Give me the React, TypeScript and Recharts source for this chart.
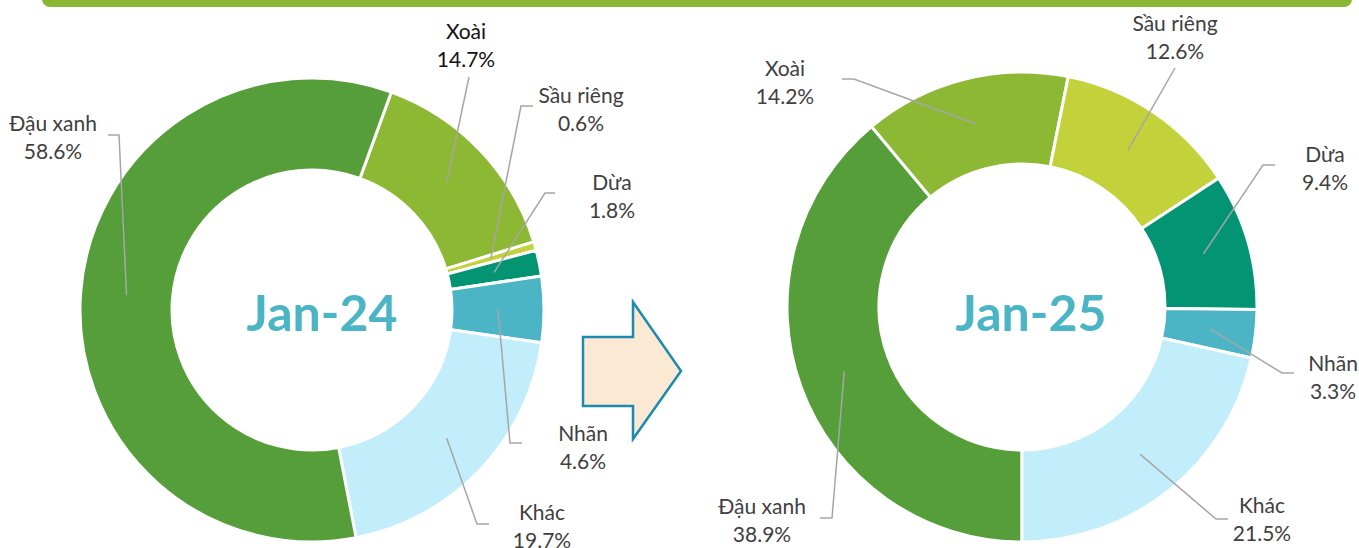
import React from "react";
import { PieChart, Pie, Cell } from "recharts";

// ---- Data ----
const leftNames = ["Xoài", "Sầu riêng", "Dừa", "Nhãn", "Khác", "Đậu xanh"];
const leftValues = [14.7, 0.6, 1.8, 4.6, 19.7, 58.6];
const rightNames = ["Đậu xanh", "Xoài", "Sầu riêng", "Dừa", "Nhãn", "Khác"];
const rightValues = [38.9, 14.2, 12.6, 9.4, 3.3, 21.5];
const leftTitle = "Jan-24";
const rightTitle = "Jan-25";

// ---- Styles ----
const colorByName: Record<string, string> = {
  "Đậu xanh": "#559E3A",
  "Xoài": "#8DB834",
  "Sầu riêng": "#C3D13B",
  "Dừa": "#039473",
  "Nhãn": "#4CB5C5",
  "Khác": "#C2EDFA",
};

// label layout: text centre x, line centre y (two lines), leader bend points
type LabelCfg = { tx: number; ty: number; pts: [number, number][]; color?: string };
const leftLabels: LabelCfg[] = [
  { tx: 466, ty: 30, pts: [[469, 77]], color: "#111111" },
  { tx: 581, ty: 94, pts: [[521, 106], [533, 106]] },
  { tx: 612, ty: 181, pts: [[545, 193], [555, 193]] },
  { tx: 583, ty: 432, pts: [[510, 443], [522, 443]] },
  { tx: 542, ty: 511, pts: [[477, 524], [489, 524]] },
  { tx: 53, ty: 122, pts: [[119, 135], [108, 135]] },
];
const rightLabels: LabelCfg[] = [
  { tx: 762, ty: 505, pts: [[832, 518], [820, 518]] },
  { tx: 785, ty: 67, pts: [[854, 79], [842, 79]] },
  { tx: 1175, ty: 22, pts: [[1175, 68]] },
  { tx: 1325, ty: 153, pts: [[1263, 165], [1275, 165]] },
  { tx: 1333, ty: 362, pts: [[1282, 373], [1294, 373]] },
  { tx: 1262, ty: 504, pts: [[1216, 519], [1228, 519]] },
];

const FONT = "Lato, 'Open Sans', sans-serif";
const RAD = Math.PI / 180;

const makeLabel = (cfgs: LabelCfg[]) => (props: any) => {
  const { cx, cy, midAngle, innerRadius, outerRadius, index, name, value } = props;
  const cfg = cfgs[index];
  if (!cfg) return null;
  const r = (innerRadius + outerRadius) / 2;
  const sx = cx + r * Math.cos(-midAngle * RAD);
  const sy = cy + r * Math.sin(-midAngle * RAD);
  const pts = [[sx, sy], ...cfg.pts].map((p) => p.join(",")).join(" ");
  const fill = cfg.color || "#404040";
  return (
    <g key={`lbl-${name}`}>
      <polyline points={pts} fill="none" stroke="#A6A6A6" strokeWidth={1.5} />
      <text x={cfg.tx} y={cfg.ty} textAnchor="middle" dominantBaseline="central" fontFamily={FONT} fontSize={21} fill={fill}>
        {name}
      </text>
      <text x={cfg.tx} y={cfg.ty + 28} textAnchor="middle" dominantBaseline="central" fontFamily={FONT} fontSize={21} fill={fill}>
        {value.toFixed(1)}%
      </text>
    </g>
  );
};

const leftData = leftNames.map((n, i) => ({ name: n, value: leftValues[i] }));
const rightData = rightNames.map((n, i) => ({ name: n, value: rightValues[i] }));

export default function App() {
  const W = 1359;
  const H = 548;
  return (
    <div style={{ position: "absolute", left: 0, top: 0, width: W, height: H, background: "#fff", overflow: "hidden" }}>
      <svg width={W} height={H} style={{ position: "absolute", left: 0, top: 0 }}>
        <rect x={42} y={-12} width={1310} height={19} rx={8} ry={8} fill="#8BB832" />
        <polygon
          points="583,337 633,337 633,302 681,371 633,439 633,406 583,406"
          fill="#FBE9D3"
          stroke="#1E8AB0"
          strokeWidth={2.5}
          strokeLinejoin="miter"
        />
      </svg>
      <div style={{ position: "absolute", left: 0, top: 0 }}>
        <PieChart width={W} height={H} margin={{ top: 0, right: 0, bottom: 0, left: 0 }}>
          <Pie
            data={leftData}
            dataKey="value"
            nameKey="name"
            cx={312}
            cy={310}
            innerRadius={140}
            outerRadius={232}
            startAngle={70}
            endAngle={-290}
            stroke="#ffffff"
            strokeWidth={3}
            isAnimationActive={false}
            labelLine={false}
            label={makeLabel(leftLabels)}
          >
            {leftData.map((d) => (
              <Cell key={d.name} fill={colorByName[d.name]} />
            ))}
          </Pie>
          <Pie
            data={rightData}
            dataKey="value"
            nameKey="name"
            cx={1022}
            cy={307}
            innerRadius={143}
            outerRadius={235}
            startAngle={-90}
            endAngle={-450}
            stroke="#ffffff"
            strokeWidth={3}
            isAnimationActive={false}
            labelLine={false}
            label={makeLabel(rightLabels)}
          >
            {rightData.map((d) => (
              <Cell key={d.name} fill={colorByName[d.name]} />
            ))}
          </Pie>
        </PieChart>
      </div>
      <svg width={W} height={H} style={{ position: "absolute", left: 0, top: 0, pointerEvents: "none" }}>
        <text x={322} y={312} textAnchor="middle" dominantBaseline="central" fontFamily={FONT} fontWeight={700} fontSize={50} fill="#4BB5C6">
          {leftTitle}
        </text>
        <text x={1031} y={312} textAnchor="middle" dominantBaseline="central" fontFamily={FONT} fontWeight={700} fontSize={50} fill="#4BB5C6">
          {rightTitle}
        </text>
      </svg>
    </div>
  );
}
